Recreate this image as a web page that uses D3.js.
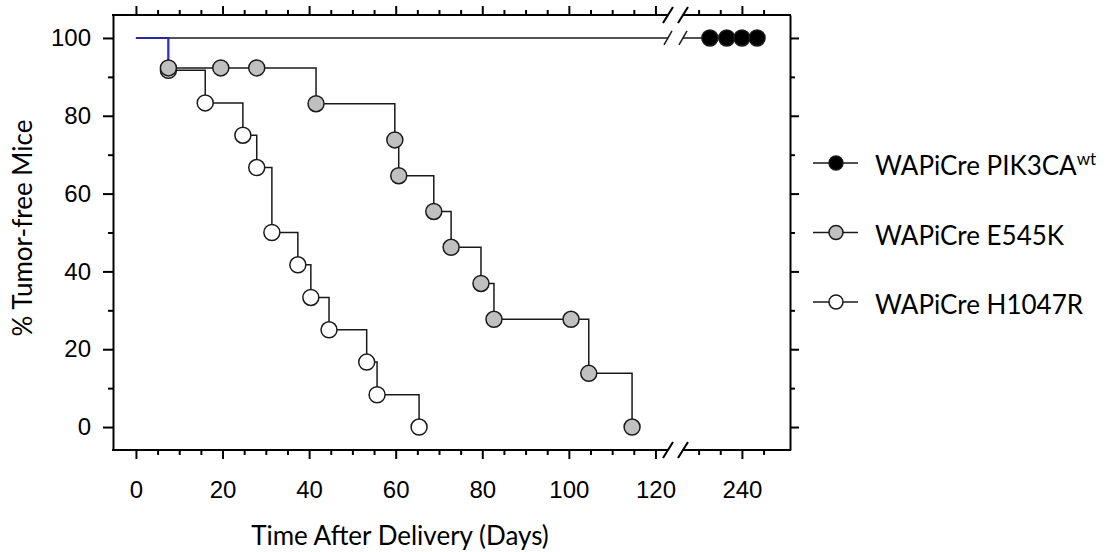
<!DOCTYPE html>
<html>
<head>
<meta charset="utf-8">
<script src="https://cdn.jsdelivr.net/npm/d3@7"></script>
<style>
    body { margin: 0; background: #fff; }
    svg { display: block; font-family: Lato, "Open Sans", sans-serif; }
</style>
</head>
<body>
<div class="canvas"></div>
<script>
// values
const legendLabels = ["WAPiCre PIK3CA", "WAPiCre E545K", "WAPiCre H1047R"];
const legendSuperscripts = ["wt", "", ""];

const wtDays = [232.6, 236.5, 240, 243.5];
const wtValues = [100, 100, 100, 100];

const e545kDays = [7.5, 19.6, 27.9, 41.6, 59.8, 60.7, 68.8, 72.8, 79.7, 82.7, 100.5, 104.6, 114.6];
const e545kValues = [92.3, 92.3, 92.3, 83.1, 73.8, 64.6, 55.4, 46.2, 36.9, 27.7, 27.7, 13.8, 0];

const h1047rDays = [7.5, 16, 24.7, 27.9, 31.4, 37.4, 40.4, 44.6, 53.3, 55.7, 65.4];
const h1047rValues = [91.7, 83.3, 75, 66.7, 50, 41.7, 33.3, 25, 16.7, 8.3, 0];

const yTickValues = [0, 20, 40, 60, 80, 100];
const yMinorTickValues = [10, 30, 50, 70, 90];
const xTickValues = [0, 20, 40, 60, 80, 100, 120, 240];
const xMinorTickValues = [5, 10, 15, 25, 30, 35, 45, 50, 55, 65, 70, 75, 85, 90, 95, 105, 110, 115, 230, 235, 245];

const xTitle = "Time After Delivery (Days)";
const yTitle = "% Tumor-free Mice";

const svgSpec = {width: 1107, height: 552};
const plot = {left: 113, right: 790, top: 15, bottom: 450, breakLeft: 668, breakRight: 683};

class SurvivalChart {
    constructor(svg) {
        this.svg = svg;
        this.x = d3.scaleLinear()
            .domain([-5.3, 122.9, 226.4, 251.1])
            .range([plot.left, plot.breakLeft, plot.breakRight, plot.right]);
        this.y = d3.scaleLinear()
            .domain([-5.9, 105.9])
            .range([plot.bottom, plot.top]);
        this.series = [
            {days: wtDays, values: wtValues, fill: "#000"},
            {days: e545kDays, values: e545kValues, fill: "#c0c0c0"},
            {days: h1047rDays, values: h1047rValues, fill: "#fff"}
        ];
        this.initialize();
    }

    initialize() {
        this.addYAxes();
        this.addXAxes();
        this.addLines();
        this.addPoints();
        this.addLegend();
        this.addTitles();
    }

    styleAxis(g) {
        g.selectAll("line").attr("stroke", "#000").attr("stroke-width", 2);
        g.selectAll("path").attr("stroke", "#000").attr("stroke-width", 2);
        g.selectAll("text").attr("fill", "#000").style("font-size", "24px");
    }

    addYAxes() {
        const left = this.svg.append("g").attr("transform", `translate(${plot.left},0)`);
        left.call(d3.axisLeft(this.y).tickValues(yTickValues).tickSize(10).tickSizeOuter(0).tickPadding(12));
        left.append("g").call(d3.axisLeft(this.y).tickValues(yMinorTickValues).tickSize(5).tickFormat(""))
            .select(".domain").remove();
        this.styleAxis(left);

        const right = this.svg.append("g").attr("transform", `translate(${plot.right},0)`);
        right.call(d3.axisRight(this.y).tickValues(yTickValues).tickSize(9).tickSizeOuter(0).tickFormat(""));
        right.append("g").call(d3.axisRight(this.y).tickValues(yMinorTickValues).tickSize(5).tickFormat(""))
            .select(".domain").remove();
        this.styleAxis(right);
    }

    addXAxes() {
        const bottom = this.svg.append("g").attr("transform", `translate(0,${plot.bottom})`);
        bottom.call(d3.axisBottom(this.x).tickValues(xTickValues).tickSize(9).tickPadding(22));
        bottom.append("g").call(d3.axisBottom(this.x).tickValues(xMinorTickValues).tickSize(5).tickFormat(""));
        bottom.selectAll(".domain").remove();
        this.styleAxis(bottom);

        const top = this.svg.append("g").attr("transform", `translate(0,${plot.top})`);
        top.call(d3.axisTop(this.x).tickValues(xTickValues).tickSize(9).tickFormat(""));
        top.append("g").call(d3.axisTop(this.x).tickValues(xMinorTickValues).tickSize(5).tickFormat(""));
        top.selectAll(".domain").remove();
        this.styleAxis(top);

        // broken axis lines
        [plot.top, plot.bottom].forEach(yPos => {
            this.brokenLine(yPos, plot.left - 1, plot.right + 1, 2);
        });
    }

    brokenLine(yPos, x0, x1, width) {
        const g = this.svg.append("g")
            .attr("stroke", "#000")
            .attr("stroke-width", width)
            .attr("fill", "none");
        g.append("line").attr("x1", x0).attr("x2", plot.breakLeft).attr("y1", yPos).attr("y2", yPos);
        g.append("line").attr("x1", plot.breakRight).attr("x2", x1).attr("y1", yPos).attr("y2", yPos);
        [plot.breakLeft, plot.breakRight].forEach(cx => {
            g.append("line")
                .attr("x1", cx - 5).attr("y1", yPos + 8)
                .attr("x2", cx + 5).attr("y2", yPos - 8);
        });
    }

    stepPoints(s) {
        return [[0, 100]].concat(s.days.map((d, i) => [d, s.values[i]]));
    }

    addLines() {
        const line = d3.line()
            .x(d => this.x(d[0]))
            .y(d => this.y(d[1]))
            .curve(d3.curveStepAfter);
        const lineGroup = this.svg.append("g")
            .attr("fill", "none")
            .attr("stroke", "#1a1a1a")
            .attr("stroke-width", 1.5);

        // wild type line stays at 100 and crosses the axis break
        const wt = this.series[0];
        const breakStart = this.x.invert(plot.breakLeft);
        const breakEnd = this.x.invert(plot.breakRight);
        lineGroup.append("path").attr("d", line([[0, wt.values[0]], [breakStart, wt.values[0]]]));
        lineGroup.append("path").attr("d", line([[breakEnd, wt.values[0]], [wt.days[wt.days.length - 1], wt.values[0]]]));
        const yw = this.y(wt.values[0]);
        [plot.breakLeft, plot.breakRight].forEach(cx => {
            lineGroup.append("line")
                .attr("x1", cx - 4).attr("y1", yw + 7)
                .attr("x2", cx + 4).attr("y2", yw - 7);
        });

        this.series.slice(1).forEach(s => {
            lineGroup.append("path").attr("d", line(this.stepPoints(s)));
        });

        // first step drawn in blue
        const s = this.series[1];
        this.svg.append("path")
            .attr("d", line(this.stepPoints(s).slice(0, 2)))
            .attr("fill", "none")
            .attr("stroke", "#2e2ec8")
            .attr("stroke-width", 1.5);
    }

    addPoints() {
        // grey markers sit on top of the white ones
        [0, 2, 1].map(i => this.series[i]).forEach(s => {
            this.svg.append("g")
                .selectAll("circle")
                .data(s.days)
                .enter()
                .append("circle")
                .attr("cx", d => this.x(d))
                .attr("cy", (d, i) => this.y(s.values[i]))
                .attr("r", 8)
                .attr("fill", s.fill)
                .attr("stroke", "#1a1a1a")
                .attr("stroke-width", 1.5);
        });
    }

    addLegend() {
        const legendGroup = this.svg.append("g").attr("transform", "translate(813, 163)");
        const gap = 69.5;
        const rows = legendGroup.selectAll("g")
            .data(legendLabels)
            .enter()
            .append("g")
            .attr("transform", (d, i) => `translate(0, ${i * gap})`);

        rows.append("line")
            .attr("x1", 0).attr("x2", 45)
            .attr("stroke", "#1a1a1a")
            .attr("stroke-width", 1.5);
        rows.append("circle")
            .attr("cx", 23)
            .attr("r", 7)
            .attr("fill", (d, i) => this.series[i].fill)
            .attr("stroke", "#1a1a1a")
            .attr("stroke-width", 1.5);

        const text = rows.append("text")
            .attr("x", 62)
            .attr("y", 12)
            .style("font-size", "26px")
            .attr("fill", "#000")
            .text(d => d);
        text.append("tspan")
            .attr("dy", -10)
            .style("font-size", "17px")
            .text((d, i) => legendSuperscripts[i]);
    }

    addTitles() {
        this.svg.append("text")
            .attr("x", 400)
            .attr("y", 545)
            .attr("text-anchor", "middle")
            .style("font-size", "26px")
            .text(xTitle);

        this.svg.append("text")
            .attr("transform", "rotate(-90)")
            .attr("x", -228)
            .attr("y", 32)
            .attr("text-anchor", "middle")
            .style("font-size", "26px")
            .text(yTitle);
    }
}

const svg = d3.select(".canvas")
    .append("svg")
    .attr("width", svgSpec.width)
    .attr("height", svgSpec.height);

new SurvivalChart(svg);
</script>
</body>
</html>
